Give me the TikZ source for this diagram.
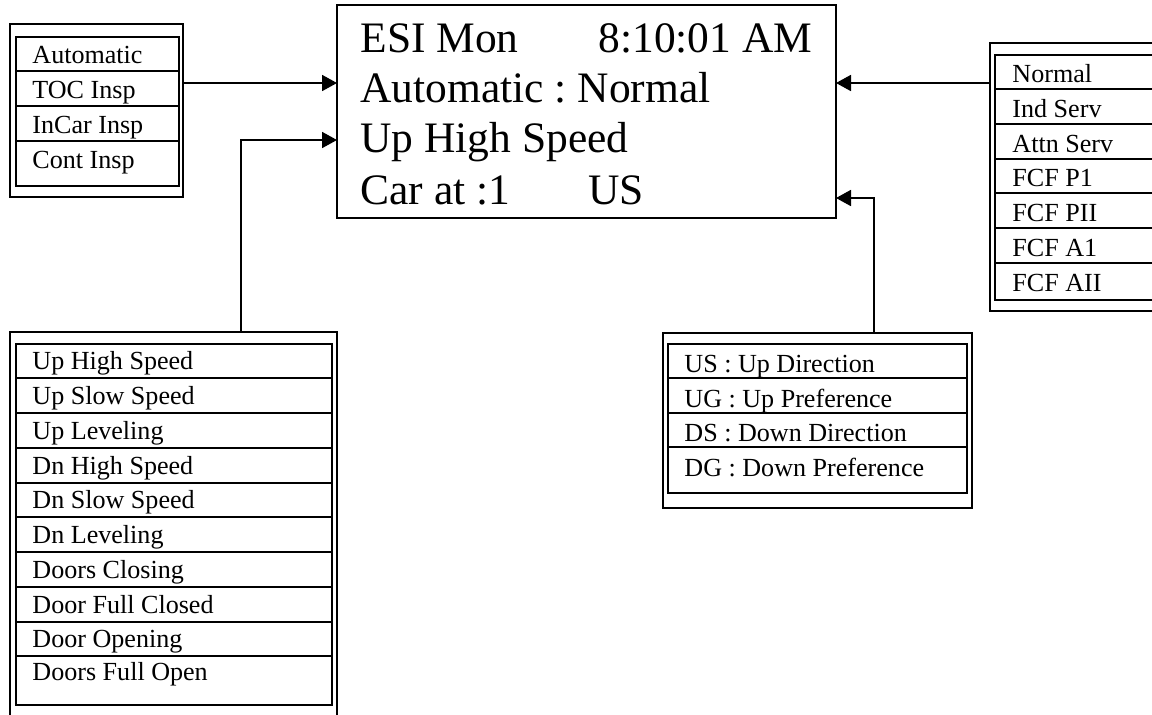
\documentclass[tikz,border=0pt]{standalone}
\usepackage{fontspec}
\setmainfont{Liberation Serif}
\frenchspacing
\usetikzlibrary{arrows.meta,fit}
\tikzset{
  outerframe/.style={draw,line width=0.7pt,inner sep=0pt},
  innerframe/.style={draw,line width=1.1pt,inner sep=0pt},
  rowline/.style={line width=1.1pt},
  item/.style={anchor=base west,inner sep=0pt,font=\fontsize{12}{14}\selectfont},
  lcdline/.style={anchor=base west,inner sep=0pt,font=\fontsize{20}{24}\selectfont},
  conn/.style={line width=0.7pt,-{Triangle[length=6.9pt,width=7.4pt]}}
}
\begin{document}
\begin{tikzpicture}[x=0.46pt,y=-0.46pt]
\useasboundingbox (0,0) rectangle (1152,714);
\clip (0,0) rectangle (1152,714);
%\draw[help lines,step=50] (0,0) grid (1152,714);

% display
\node[fit={(337,5) (836,218)},draw,line width=0.8pt,inner sep=0pt] (lcd) {};
\node[lcdline] (day) at (360,52) {ESI Mon};
\node[lcdline] (clock) at (598,52) {8:10:01 AM};
\node[lcdline] (mode) at (360,102) {Automatic : Normal};
\node[lcdline] (motion) at (360,152) {Up High Speed};
\node[lcdline] (floor) at (360,204) {Car at :1};
\node[lcdline] (dir) at (588,204) {US};

% operating modes
\node[outerframe,fit={(10,24) (183,197)}] (modeout) {};
\node[innerframe,fit={(16,37) (179,186)}] (modein) {};
\draw[rowline] (16,71)--(179,71) (16,106)--(179,106) (16,141)--(179,141);
\node[item] (m1) at (32,63) {Automatic};
\node[item] (m2) at (32,98) {TOC Insp};
\node[item] (m3) at (32,133) {InCar Insp};
\node[item] (m4) at (32,168) {Cont Insp};

% services
\node[outerframe,fit={(990,43) (1175,311)}] (servout) {};
\node[innerframe,fit={(995,55) (1170,300)}] (servin) {};
\draw[rowline] (995,89)--(1170,89) (995,124)--(1170,124) (995,159)--(1170,159)
  (995,193)--(1170,193) (995,228)--(1170,228) (995,263)--(1170,263);
\node[item] (s1) at (1012,82) {Normal};
\node[item] (s2) at (1012,117) {Ind Serv};
\node[item] (s3) at (1012,152) {Attn Serv};
\node[item] (s4) at (1012,186) {FCF P1};
\node[item] (s5) at (1012,221) {FCF PII};
\node[item] (s6) at (1012,256) {FCF A1};
\node[item] (s7) at (1012,291) {FCF AII};

% car motion
\node[outerframe,fit={(10,332) (337,730)}] (motout) {};
\node[innerframe,fit={(16,344) (332,705)}] (motin) {};
\draw[rowline] (16,378)--(332,378) (16,413)--(332,413) (16,448)--(332,448)
  (16,483)--(332,483) (16,517)--(332,517) (16,552)--(332,552)
  (16,587)--(332,587) (16,622)--(332,622) (16,656)--(332,656);
\node[item] (c1) at (32,369) {Up High Speed};
\node[item] (c2) at (32,404) {Up Slow Speed};
\node[item] (c3) at (32,439) {Up Leveling};
\node[item] (c4) at (32,474) {Dn High Speed};
\node[item] (c5) at (32,508) {Dn Slow Speed};
\node[item] (c6) at (32,543) {Dn Leveling};
\node[item] (c7) at (32,578) {Doors Closing};
\node[item] (c8) at (32,613) {Door Full Closed};
\node[item] (c9) at (32,647) {Door Opening};
\node[item] (c10) at (32,680) {Doors Full Open};

% direction codes
\node[outerframe,fit={(663,333) (972,508)}] (dirout) {};
\node[innerframe,fit={(668,344) (967,493)}] (dirin) {};
\draw[rowline] (668,378)--(967,378) (668,413)--(967,413) (668,447)--(967,447);
\node[item] (d1) at (684,372) {US : Up Direction};
\node[item] (d2) at (684,407) {UG : Up Preference};
\node[item] (d3) at (684,441) {DS : Down Direction};
\node[item] (d4) at (684,476) {DG : Down Preference};

% connectors
\coordinate (lcdin1) at (337,83);
\coordinate (lcdin2) at (337,140);
\coordinate (lcdin3) at (836,83);
\coordinate (lcdin4) at (836,198);
\coordinate (mottap) at (241,332);
\coordinate (dirtap) at (874,333);
\draw[conn] (modeout.east |- lcdin1) -- (lcdin1);
\draw[conn] (mottap) |- (lcdin2);
\draw[conn] (servout.west |- lcdin3) -- (lcdin3);
\draw[conn] (dirtap) |- (lcdin4);
\end{tikzpicture}
\end{document}
